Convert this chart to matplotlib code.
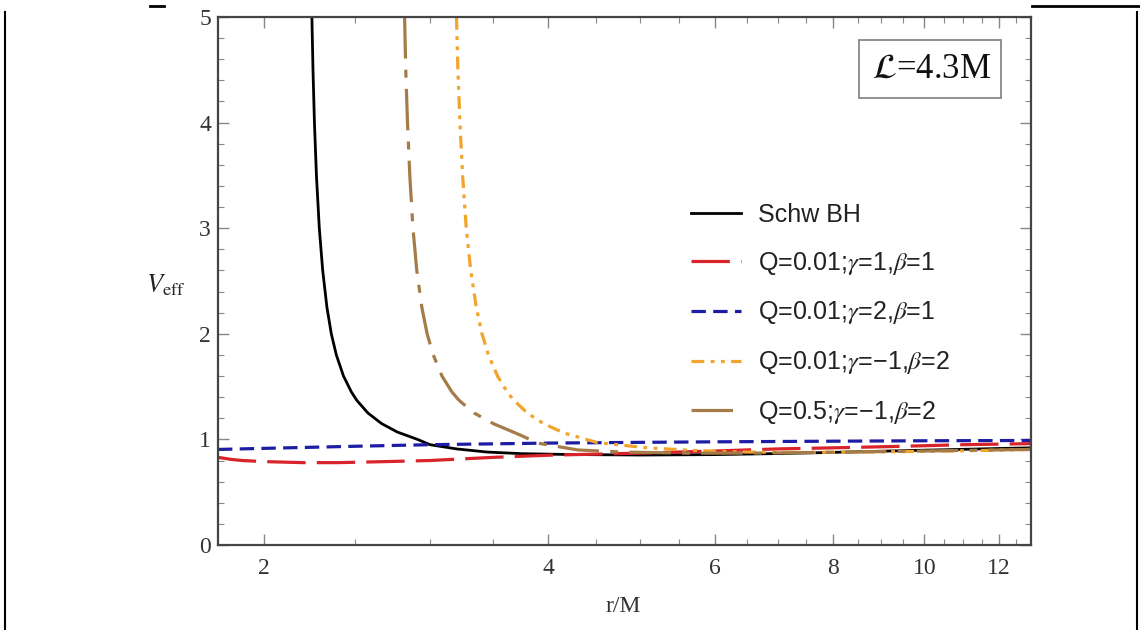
import matplotlib
matplotlib.use("Agg")
import matplotlib.pyplot as plt
from matplotlib.ticker import FixedLocator, NullFormatter, FixedFormatter
from matplotlib.patches import Rectangle
from matplotlib.lines import Line2D

plt.rcParams['mathtext.fontset'] = 'stix'
plt.rcParams['font.family'] = ['Liberation Serif', 'DejaVu Serif']

# ---- data ----
schw_r = [2.250, 2.256, 2.264, 2.275, 2.291, 2.310, 2.334, 2.359, 2.388, 2.430,
          2.477, 2.510, 2.579, 2.666, 2.770, 2.910, 3.000, 3.200, 3.450, 3.750,
          4.200, 5.000, 6.000, 7.000, 8.000, 9.000, 10.00, 11.00, 12.00, 13.00]
schw_v = [5.00, 4.50, 4.00, 3.50, 3.00, 2.60, 2.25, 2.00, 1.80, 1.60,
          1.45, 1.37, 1.25, 1.15, 1.07, 1.00, 0.95, 0.91, 0.88, 0.865,
          0.857, 0.852, 0.856, 0.866, 0.877, 0.888, 0.898, 0.906, 0.914, 0.920]

red_r = [1.79, 1.85, 1.90, 2.00, 2.20, 2.40, 2.70, 3.00, 3.50, 4.00, 5.00, 6.00,
         7.00, 8.00, 9.00, 10.0, 11.0, 12.0, 13.0]
red_v = [0.83, 0.81, 0.80, 0.79, 0.78, 0.78, 0.79, 0.80, 0.83, 0.85, 0.87, 0.89,
         0.91, 0.92, 0.93, 0.94, 0.95, 0.955, 0.96]

blue_r = [1.79, 2.00, 2.50, 3.00, 4.00, 5.00, 6.00, 8.00, 10.0, 13.0]
blue_v = [0.905, 0.915, 0.935, 0.95, 0.965, 0.972, 0.977, 0.983, 0.987, 0.99]

orange_r = [3.200, 3.211, 3.227, 3.248, 3.277, 3.313, 3.358, 3.405, 3.459, 3.536,
            3.620, 3.680, 3.803, 3.954, 4.160, 4.510, 5.100, 5.700, 6.500, 7.500,
            8.500, 10.00, 11.50, 13.00]
orange_v = [5.00, 4.50, 4.00, 3.50, 3.00, 2.60, 2.25, 2.00, 1.80, 1.60,
            1.45, 1.37, 1.25, 1.15, 1.06, 0.97, 0.92, 0.895, 0.88, 0.877,
            0.88, 0.887, 0.895, 0.905]

brown_r = [2.820, 2.828, 2.840, 2.856, 2.878, 2.905, 2.941, 2.979, 3.024, 3.089,
           3.164, 3.220, 3.340, 3.499, 3.740, 3.900, 4.300, 4.800, 5.600, 6.600,
           8.000, 10.00, 13.00]
brown_v = [5.00, 4.50, 4.00, 3.50, 3.00, 2.60, 2.25, 2.00, 1.80, 1.60,
           1.45, 1.37, 1.25, 1.15, 1.04, 0.965, 0.90, 0.88, 0.87, 0.87,
           0.878, 0.89, 0.905]

labels = ["Schw BH",
          r"Q=0.01;$\gamma$=1,$\beta$=1",
          r"Q=0.01;$\gamma$=2,$\beta$=1",
          "Q=0.01;$\\gamma$=\u22121,$\\beta$=2",
          "Q=0.5;$\\gamma$=\u22121,$\\beta$=2"]

x_major = [2, 4, 6, 8, 10, 12]
x_minor = [2.5, 3, 3.5, 4.5, 5, 5.5, 6.5, 7, 7.5, 8.5, 9, 9.5, 10.5, 11, 11.5, 12.5]
y_major = [0, 1, 2, 3, 4, 5]
y_minor = [0.2, 0.4, 0.6, 0.8, 1.2, 1.4, 1.6, 1.8, 2.2, 2.4, 2.6, 2.8,
           3.2, 3.4, 3.6, 3.8, 4.2, 4.4, 4.6, 4.8]

# ---- figure ----
fig = plt.figure(figsize=(11.4, 6.3), dpi=100)
W, H = 1140, 630
ax = fig.add_axes([218 / W, 1 - 545 / H, (1031 - 218) / W, (545 - 17) / H])

LW = 2.3
ax.plot(schw_r, schw_v, color='black', lw=2.0, label=labels[0])
ax.plot(red_r, red_v, color='#d8232a', lw=LW, dashes=(12, 3.5), label=labels[1])
ax.plot(blue_r, blue_v, color='#1c1ca4', lw=LW, dashes=(4.5, 2.3), label=labels[2])
ax.plot(orange_r, orange_v, color='#f2a42c', lw=LW, dashes=(4, 2, 1.2, 2, 1.2, 2), label=labels[3])
ax.plot(brown_r, brown_v, color='#a57c47', lw=LW, dashes=(13, 3.5, 2.5, 3.5), label=labels[4])

ax.set_xscale('log')
ax.set_xlim(1.79, 12.97)
ax.set_ylim(0, 5)

ax.xaxis.set_major_locator(FixedLocator(x_major))
ax.xaxis.set_major_formatter(FixedFormatter([str(v) for v in x_major]))
ax.xaxis.set_minor_locator(FixedLocator(x_minor))
ax.xaxis.set_minor_formatter(NullFormatter())
ax.yaxis.set_major_locator(FixedLocator(y_major))
ax.yaxis.set_minor_locator(FixedLocator(y_minor))

for s in ax.spines.values():
    s.set_color('#444444')
    s.set_linewidth(1.6)

ax.tick_params(which='both', direction='in', top=True, right=True, color='#888888')
ax.tick_params(which='major', length=8, width=1.0, labelsize=17)
ax.tick_params(which='minor', length=4, width=0.8)
ax.tick_params(axis='x', which='major', pad=9)
ax.tick_params(axis='y', which='major', pad=5)
for lab in ax.get_xticklabels() + ax.get_yticklabels():
    lab.set_color('#333333')

fig.text(623 / W, 1 - 606 / H, 'r/M', ha='center', va='center', fontsize=17, color='#333333')
fig.text(166 / W, 1 - 285 / H, r'$V_{\rm eff}$', ha='center', va='center', fontsize=19, color='#222222')

leg = ax.legend(loc='upper left', bbox_to_anchor=(691 / W, 1 - 203 / H),
                bbox_transform=fig.transFigure, frameon=False, borderaxespad=0,
                borderpad=0, handlelength=2.0, handletextpad=0.7, labelspacing=0.91,
                prop={'family': 'Liberation Sans', 'size': 18})
for t in leg.get_texts():
    t.set_color('#222222')

# box with L = 4.3M
fig.patches.append(Rectangle((859 / W, 1 - 98 / H), (1001 - 859) / W, (98 - 40) / H,
                             transform=fig.transFigure, facecolor='white',
                             edgecolor='#888888', lw=1.3, zorder=5))
fig.text(931 / W, 1 - 69 / H, r'$\mathcal{L}$=4.3M', ha='center', va='center',
         fontsize=25, color='#111111', zorder=6)

# table border fragments
fig.add_artist(Line2D([150 / W, 164 / W], [1 - 6 / H, 1 - 6 / H], color='black', lw=2,
                      transform=fig.transFigure))
fig.add_artist(Line2D([1032 / W, 1.0], [1 - 6 / H, 1 - 6 / H], color='black', lw=2,
                      transform=fig.transFigure))
fig.add_artist(Line2D([5 / W, 5 / W], [0, 1 - 12 / H], color='black', lw=1.5,
                      transform=fig.transFigure))
fig.add_artist(Line2D([1137 / W, 1137 / W], [0, 1 - 12 / H], color='black', lw=1.5,
                      transform=fig.transFigure))

fig.savefig('out.png', dpi=100)
